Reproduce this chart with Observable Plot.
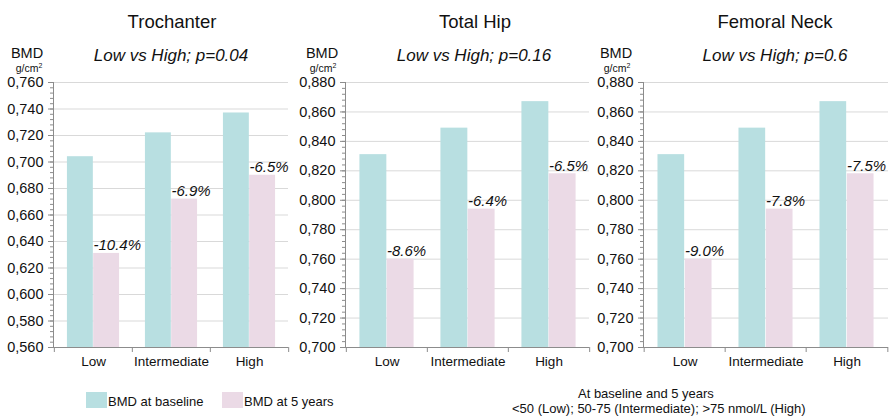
<!DOCTYPE html>
<html>
<head>
<meta charset="utf-8">
<script src="https://cdn.jsdelivr.net/npm/d3@7"></script>
<script src="https://cdn.jsdelivr.net/npm/@observablehq/plot@0.6"></script>
<style>
  html, body { margin: 0; padding: 0; background: #fff; }
  #wrap { position: relative; width: 890px; height: 416px; background: #fff; overflow: hidden;
          font-family: "Liberation Sans", Arial, sans-serif; color: #111; }
  .abs { position: absolute; white-space: nowrap; line-height: 1; }
  .c { transform: translate(-50%, -50%); }
  .l { transform: translate(0, -50%); }
  .panel { position: absolute; top: 72px; }
  .swatch { position: absolute; width: 21px; height: 16px; }
</style>
</head>
<body>
<div id="wrap"></div>
<script>
// ---- data ----
const groups = ["Low", "Intermediate", "High"];
const sites = ["Trochanter", "Total Hip", "Femoral Neck"];
const pLabels = ["Low vs High; p=0.04", "Low vs High; p=0.16", "Low vs High; p=0.6"];
const seriesNames = ["BMD at baseline", "BMD at 5 years"];

const baseTrochanter = [0.704, 0.722, 0.737];
const fiveTrochanter = [0.631, 0.672, 0.690];
const pctTrochanter = ["-10.4%", "-6.9%", "-6.5%"];

const baseTotalHip = [0.831, 0.849, 0.867];
const fiveTotalHip = [0.760, 0.794, 0.818];
const pctTotalHip = ["-8.6%", "-6.4%", "-6.5%"];

const baseFemoralNeck = [0.831, 0.849, 0.867];
const fiveFemoralNeck = [0.760, 0.794, 0.818];
const pctFemoralNeck = ["-9.0%", "-7.8%", "-7.5%"];

const yDomainTrochanter = [0.560, 0.760];
const yDomainHip = [0.700, 0.880];
const majorStep = 0.020;
const minorStep = 0.004;

const captionLines = ["At baseline and 5 years", "<50 (Low); 50-75 (Intermediate); >75 nmol/L (High)"];

// ---- style ----
const teal = "#b8dfe1";
const pink = "#ebdae6";
const gridColor = "#d9d9d9";
const axisColor = "#8c8c8c";
const font = "'Liberation Sans', Arial, sans-serif";

const panels = [
  {site: sites[0], p: pLabels[0], base: baseTrochanter, five: fiveTrochanter, pct: pctTrochanter, dom: yDomainTrochanter,
   left: 0, width: 290, ml: 53, mr: 2, titleX: 172, subX: 171, bmdX: 27, unitX: 29},
  {site: sites[1], p: pLabels[1], base: baseTotalHip, five: fiveTotalHip, pct: pctTotalHip, dom: yDomainHip,
   left: 290, width: 300, ml: 55, mr: 1, titleX: 475, subX: 474, bmdX: 322, unitX: 323},
  {site: sites[2], p: pLabels[2], base: baseFemoralNeck, five: fiveFemoralNeck, pct: pctFemoralNeck, dom: yDomainHip,
   left: 590, width: 300, ml: 53, mr: 2, titleX: 775, subX: 775, bmdX: 616, unitX: 617}
];

const wrap = document.getElementById("wrap");
function addText(txt, x, y, cls, css) {
  const d = document.createElement("div");
  d.className = "abs " + cls;
  d.style.left = x + "px";
  d.style.top = y + "px";
  Object.assign(d.style, css || {});
  d.innerHTML = txt;
  wrap.appendChild(d);
  return d;
}

const fmt = d => d3.format(".3f")(d).replace(".", ",");
const H = 303, MT = 10, MB = 28;

panels.forEach(pn => {
  const [y0, y1] = pn.dom;
  const major = d3.range(Math.round((y1 - y0) / majorStep) + 1).map(i => +(y0 + i * majorStep).toFixed(3));
  const minor = d3.range(Math.round((y1 - y0) / minorStep) + 1).map(i => +(y0 + i * minorStep).toFixed(3));
  const plotW = pn.width - pn.ml - pn.mr;
  const step = plotW / groups.length;
  const rows = groups.map((g, i) => ({group: g, base: pn.base[i], five: pn.five[i], pct: pn.pct[i]}));

  const chart = Plot.plot({
    width: pn.width,
    height: H,
    marginTop: MT,
    marginBottom: MB,
    marginLeft: pn.ml,
    marginRight: pn.mr,
    style: {fontFamily: font, background: "transparent", color: "#111", overflow: "visible"},
    x: {type: "band", domain: groups, padding: 0, axis: null},
    y: {domain: pn.dom, axis: null},
    marks: [
      Plot.gridY(major, {stroke: gridColor, strokeOpacity: 1}),
      Plot.barY(rows, {x: "group", y1: () => y0, y2: "base", fill: teal,
                       insetLeft: step * 0.165, insetRight: step * 0.5}),
      Plot.barY(rows, {x: "group", y1: () => y0, y2: "five", fill: pink,
                       insetLeft: step * 0.5, insetRight: step * 0.165}),
      Plot.ruleY([y0], {stroke: axisColor}),
      Plot.frame({anchor: "left", stroke: axisColor}),
      Plot.axisY(minor, {tickSize: 3, tickFormat: () => "", stroke: axisColor, label: null}),
      Plot.axisY(major, {tickSize: 5, tickPadding: 5, tickFormat: fmt, stroke: axisColor,
                         fontSize: 14.5, fill: "#111", label: null}),
      Plot.axisX({tickSize: 0, tickPadding: 9, fontSize: 13.5, fill: "#111", label: null}),
      Plot.ruleX(groups, {x: d => d, y1: () => y0, y2: () => y0, insetBottom: -5, dx: -step / 2, stroke: axisColor}),
      Plot.ruleX(groups.slice(-1), {x: d => d, y1: () => y0, y2: () => y0, insetBottom: -5, dx: step / 2, stroke: axisColor}),
      Plot.text(rows, {x: "group", y: "five", text: "pct", textAnchor: "start", lineAnchor: "bottom",
                       dy: -3, fontSize: 15, fontStyle: "italic", fill: "#111"})
    ]
  });
  const holder = document.createElement("div");
  holder.className = "panel";
  holder.style.left = pn.left + "px";
  holder.appendChild(chart);
  wrap.appendChild(holder);

  addText(pn.site, pn.titleX, 22, "c", {fontSize: "18.5px"});
  addText(pn.p, pn.subX, 55, "c", {fontSize: "17px", fontStyle: "italic"});
  addText("BMD", pn.bmdX, 53, "c", {fontSize: "14.5px"});
  addText("g/cm<sup style='font-size:7px;vertical-align:4px'>2</sup>", pn.unitX, 68, "c", {fontSize: "10.5px"});
});

// legend
const legendItems = [{name: seriesNames[0], color: teal, x: 86, tx: 108}, {name: seriesNames[1], color: pink, x: 222, tx: 244}];
legendItems.forEach(it => {
  const s = document.createElement("div");
  s.className = "swatch";
  s.style.left = it.x + "px";
  s.style.top = "392px";
  s.style.background = it.color;
  wrap.appendChild(s);
  addText(it.name, it.tx, 401, "l", {fontSize: "13px"});
});

// caption
addText(captionLines[0], 578, 393, "l", {fontSize: "13px"});
addText(captionLines[1].replace(/</g, "&lt;").replace(/>/g, "&gt;"), 512, 408, "l", {fontSize: "13px"});
</script>
</body>
</html>
